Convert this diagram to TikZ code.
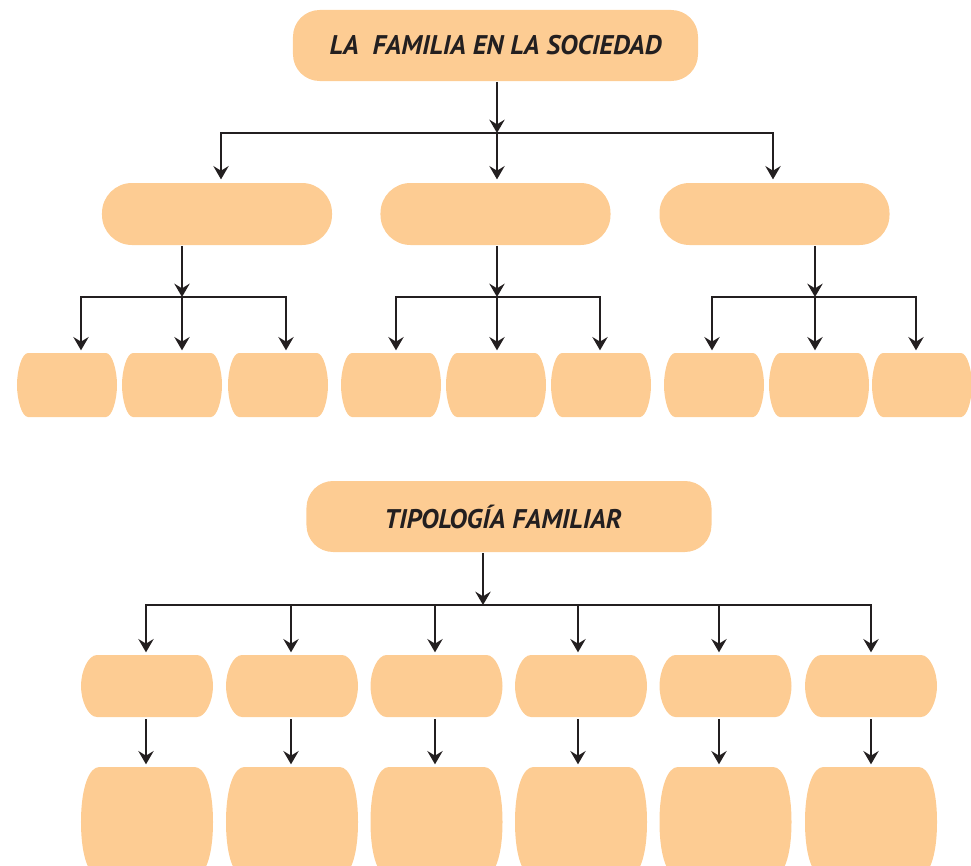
\documentclass[tikz,border=0pt]{standalone}
\usepackage{fontspec}
\setsansfont{PT Sans}
\usepackage{tikz}
\usetikzlibrary{arrows.meta, positioning}

\definecolor{peach}{HTML}{FDCC93}
\definecolor{ink}{HTML}{231F20}

% box with bulging sides: node, side inset, side control
\newcommand\fillpillow[3]{%
    \fill[peach] ([xshift=#2]#1.north west) -- ([xshift=-#2]#1.north east)
        .. controls ([xshift=-0.45*#2]#1.north east) and ([yshift=#3]#1.east) .. (#1.east)
        .. controls ([yshift=-#3]#1.east) and ([xshift=-0.45*#2]#1.south east) .. ([xshift=-#2]#1.south east)
        -- ([xshift=#2]#1.south west)
        .. controls ([xshift=0.45*#2]#1.south west) and ([yshift=-#3]#1.west) .. (#1.west)
        .. controls ([yshift=#3]#1.west) and ([xshift=0.45*#2]#1.north west) .. cycle;}

\begin{document}
\begin{tikzpicture}[
        x = 0.03cm, y = -0.03cm, % one unit = one pixel of the sheet
        > = {Stealth[length=4mm, width=4.6mm, inset=1.4mm]}, % arrow head style
        shorten > = 0.8mm, % don't touch arrow head to box
        line width = 1.6pt,
        color = ink,
        title/.style = {rectangle, rounded corners=0.8cm, fill=peach,
            minimum width=12.15cm, minimum height=2.13cm,
            font=\sffamily\bfseries\itshape\fontsize{23}{27}\selectfont},
        branch/.style = {rectangle, rounded corners=0.9cm, fill=peach,
            minimum width=6.9cm, minimum height=1.86cm},
        leaf/.style = {rectangle, outer sep=0pt, minimum width=3cm, minimum height=1.92cm},
        kind/.style = {rectangle, outer sep=0pt, minimum width=3.96cm, minimum height=1.86cm},
        detail/.style = {rectangle, outer sep=0pt, minimum width=3.96cm, minimum height=3.3cm}
    ]

    \path[use as bounding box] (0,0) rectangle (971,866);
    \clip (0,0) rectangle (971,866);

    % la familia en la sociedad
    \node[title] (fam) at (495.5,45.5) {LA~~FAMILIA EN LA SOCIEDAD};
    \coordinate (famhub) at (497,133);
    \draw[->, shorten >=0pt] (famhub |- fam.south) -- (famhub);

    \node[branch] (br1) at (217,214) {};
    \node[branch] (br2) at (495.5,214) {};
    \node[branch] (br3) at (774.5,214) {};

    \coordinate (top1) at (221,133);
    \coordinate (top2) at (497,133);
    \coordinate (top3) at (773,133);
    \draw[<->, shorten <=0.8mm] (top1 |- br1.north) -- (top1) -- (top3) -- (top3 |- br3.north);
    \draw[->] (top2) -- (top2 |- br2.north);

    \foreach \i/\mx/\ax/\bx/\cx/\la/\lb/\lc in {
            1/182/81/182/286/67/172/278,
            2/497/396/497/600/391/496/601,
            3/815/712/815/916/714/819/922} {
        \node[leaf] (leaf\i a) at (\la,385) {};
        \node[leaf] (leaf\i b) at (\lb,385) {};
        \node[leaf] (leaf\i c) at (\lc,385) {};
        \fillpillow{leaf\i a}{0.33cm}{0.45cm}
        \fillpillow{leaf\i b}{0.33cm}{0.45cm}
        \fillpillow{leaf\i c}{0.33cm}{0.45cm}
        \coordinate (hub\i) at (\mx,297);
        \coordinate (tap\i a) at (\ax,297);
        \coordinate (tap\i b) at (\bx,297);
        \coordinate (tap\i c) at (\cx,297);
        \draw[->, shorten >=0pt] (hub\i |- br\i.south) -- (hub\i);
        \draw[<->, shorten <=0.8mm] (tap\i a |- leaf\i a.north) -- (tap\i a)
            -- (tap\i c) -- (tap\i c |- leaf\i c.north);
        \draw[->] (tap\i b) -- (tap\i b |- leaf\i b.north);
    }

    % tipologia familiar
    \node[title] (tipo) at (509,516.5) {TIPOLOGÍA FAMILIAR\hspace*{0.36cm}};
    \coordinate (tipohub) at (483,605);
    \draw[->, shorten >=0pt] (tipohub |- tipo.south) -- (tipohub);

    \foreach \k/\bx/\ax in {1/147/146, 2/292/291, 3/436.5/435,
                           4/581/578, 5/725.5/719, 6/871/871} {
        \node[kind] (kind\k) at (\bx,686) {};
        \node[detail] (detail\k) at (\bx,822) {};
        \fillpillow{kind\k}{0.48cm}{0.45cm}
        \fillpillow{detail\k}{0.55cm}{1.05cm}
        \coordinate (drop\k) at (\ax,605);
        \draw[->, shorten <=0.6mm] (drop\k |- kind\k.south) -- (drop\k |- detail\k.north);
    }
    \draw[<->, shorten <=0.8mm] (drop1 |- kind1.north) -- (drop1) -- (drop6) -- (drop6 |- kind6.north);
    \foreach \k in {2,...,5}
        \draw[->] (drop\k) -- (drop\k |- kind\k.north);

\end{tikzpicture}
\end{document}
